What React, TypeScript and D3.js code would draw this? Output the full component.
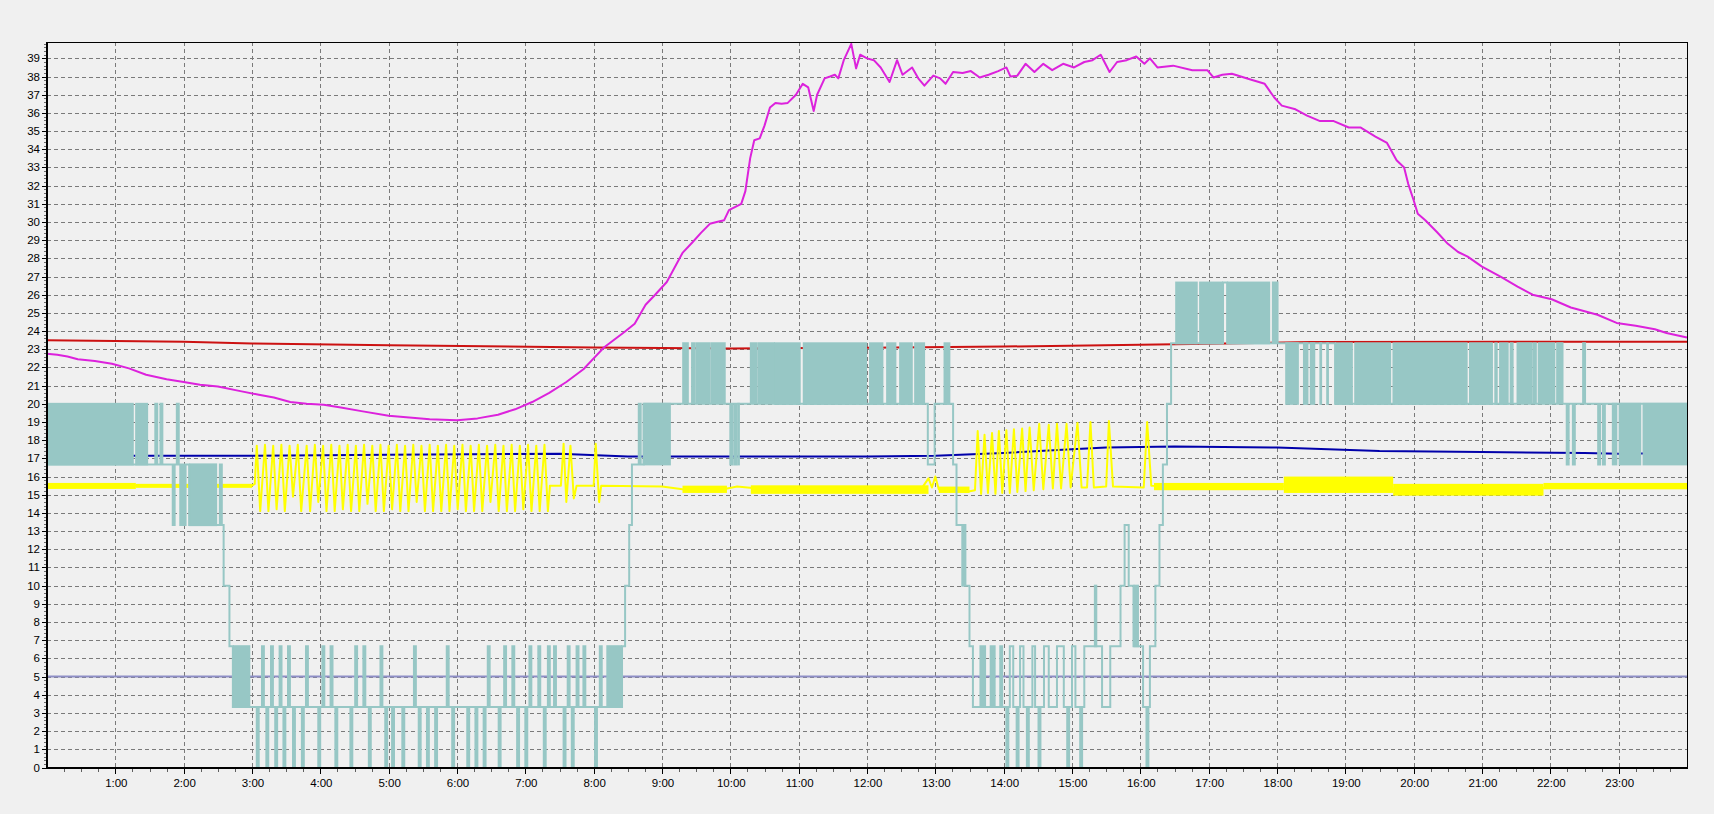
import React, { useEffect, useRef } from "react";
import * as d3 from "d3";

type Pt = [number, number];
// [start hour, end hour, low value, high value]
type Band = [number, number, number, number];

// ---- data (hours, value) ----

const magentaSeries: Pt[] = [
  [0, 22.75], [0.15, 22.7], [0.3, 22.6], [0.45, 22.45], [0.7, 22.35], [0.95, 22.2],
  [1.2, 21.95], [1.45, 21.6], [1.75, 21.35], [2.0, 21.2], [2.24, 21.05], [2.5, 20.95],
  [2.83, 20.7], [3.1, 20.5], [3.32, 20.35], [3.56, 20.1], [3.8, 20.0], [4.05, 19.95],
  [4.3, 19.8], [4.6, 19.6], [5.0, 19.35], [5.3, 19.25], [5.6, 19.15], [6.0, 19.1],
  [6.3, 19.2], [6.6, 19.4], [6.85, 19.7], [7.1, 20.1], [7.35, 20.6], [7.6, 21.2],
  [7.85, 21.9], [8.0, 22.5], [8.15, 23.1], [8.29, 23.5], [8.45, 23.95], [8.6, 24.4],
  [8.76, 25.45], [8.9, 26.0], [9.07, 26.7], [9.3, 28.3], [9.45, 28.9], [9.57, 29.4],
  [9.7, 29.9], [9.8, 30.0], [9.91, 30.1], [9.98, 30.65], [10.16, 31.0], [10.22, 31.7],
  [10.29, 33.5], [10.35, 34.5], [10.43, 34.6], [10.5, 35.3], [10.58, 36.3], [10.66, 36.55],
  [10.75, 36.5], [10.84, 36.55], [10.96, 37.0], [11.06, 37.6], [11.14, 37.4], [11.22, 36.1],
  [11.27, 37.0], [11.38, 37.9], [11.46, 38.0], [11.53, 38.1], [11.58, 37.9], [11.66, 38.9],
  [11.77, 39.8], [11.84, 38.45], [11.9, 39.2], [12.0, 39.0], [12.1, 38.9], [12.2, 38.5],
  [12.33, 37.7], [12.44, 38.9], [12.52, 38.1], [12.66, 38.5], [12.75, 37.9], [12.84, 37.5],
  [12.97, 38.05], [13.07, 37.9], [13.15, 37.6], [13.26, 38.25], [13.4, 38.2], [13.52, 38.3],
  [13.65, 37.95], [13.78, 38.1], [13.92, 38.3], [14.04, 38.5], [14.1, 38.0], [14.2, 38.05],
  [14.32, 38.7], [14.45, 38.25], [14.58, 38.7], [14.71, 38.35], [14.87, 38.7], [15.03, 38.5],
  [15.18, 38.8], [15.3, 38.9], [15.42, 39.2], [15.55, 38.25], [15.66, 38.8], [15.8, 38.9],
  [15.94, 39.1], [16.06, 38.7], [16.14, 39.0], [16.25, 38.5], [16.48, 38.6], [16.76, 38.35],
  [16.98, 38.35], [17.07, 37.95], [17.2, 38.1], [17.34, 38.15], [17.6, 37.85], [17.82, 37.6],
  [17.96, 36.85], [18.07, 36.4], [18.27, 36.2], [18.44, 35.85], [18.63, 35.55], [18.83, 35.55],
  [19.05, 35.2], [19.22, 35.2], [19.44, 34.7], [19.61, 34.35], [19.75, 33.4], [19.86, 33.0],
  [19.92, 32.1], [20.0, 31.2], [20.06, 30.45], [20.17, 30.1], [20.34, 29.45], [20.5, 28.8],
  [20.65, 28.35], [20.79, 28.1], [21.0, 27.55], [21.29, 26.95], [21.52, 26.45], [21.74, 26.0],
  [22.02, 25.75], [22.3, 25.3], [22.69, 24.9], [22.97, 24.45], [23.25, 24.3], [23.53, 24.1],
  [23.7, 23.9], [24, 23.65],
];

const redSeries: Pt[] = [
  [0, 23.5], [2, 23.42], [3, 23.32], [5, 23.22], [8, 23.1], [10, 23.05], [12, 23.08],
  [14, 23.15], [16, 23.25], [17, 23.3], [18.5, 23.4], [24, 23.42],
];

const blueSeries: Pt[] = [
  [0, 17.2], [1.3, 17.15], [3, 17.15], [5, 17.2], [7.5, 17.25], [8.5, 17.1], [12, 17.1],
  [13, 17.15], [14, 17.3], [15, 17.5], [15.5, 17.6], [16.5, 17.65], [18, 17.6], [19.5, 17.4],
  [21, 17.35], [22.5, 17.3], [23, 17.25], [24, 17.3],
];

const yellowSeries: Pt[] = [
  [0, 15.5], [0.5, 15.45], [1.0, 15.5], [1.5, 15.5], [2.0, 15.45], [2.5, 15.5], [3.0, 15.5],
  [3.04, 15.6], [3.07, 17.7], [3.12, 14.1], [3.19, 17.75], [3.24, 14.1], [3.31, 17.7], [3.36, 14.2],
  [3.43, 17.75], [3.48, 14.1], [3.55, 17.7], [3.6, 14.9], [3.67, 17.75], [3.72, 14.1], [3.8, 17.7],
  [3.85, 14.1], [3.92, 17.75], [3.97, 14.6], [4.04, 17.7], [4.09, 14.1], [4.16, 17.75], [4.21, 14.1],
  [4.28, 17.7], [4.33, 14.2], [4.4, 17.75], [4.45, 14.1], [4.52, 17.7], [4.57, 14.1], [4.64, 17.75],
  [4.69, 14.5], [4.76, 17.7], [4.81, 14.1], [4.88, 17.75], [4.93, 14.1], [5.0, 17.7], [5.05, 14.2],
  [5.12, 17.75], [5.17, 14.1], [5.24, 17.7], [5.29, 14.1], [5.36, 17.75], [5.41, 14.6], [5.48, 17.7],
  [5.53, 14.1], [5.6, 17.75], [5.65, 14.1], [5.72, 17.7], [5.77, 14.1], [5.84, 17.75], [5.89, 14.1],
  [5.96, 17.7], [6.01, 14.2], [6.08, 17.75], [6.13, 14.1], [6.2, 17.7], [6.25, 14.1], [6.32, 17.75],
  [6.37, 14.1], [6.44, 17.7], [6.49, 14.6], [6.56, 17.75], [6.61, 14.1], [6.68, 17.7], [6.73, 14.1],
  [6.8, 17.75], [6.85, 14.1], [6.92, 17.7], [6.97, 14.2], [7.04, 17.75], [7.09, 14.1], [7.16, 17.7],
  [7.21, 14.1], [7.28, 17.75], [7.33, 14.1], [7.36, 15.5], [7.52, 15.5], [7.56, 17.8], [7.6, 14.6],
  [7.66, 17.7], [7.71, 14.8], [7.75, 15.5], [8.0, 15.5], [8.03, 17.8], [8.08, 14.6], [8.11, 15.5],
  [9.0, 15.45], [9.3, 15.3], [9.6, 15.25], [9.9, 15.3], [10.1, 15.45], [10.4, 15.35], [11.0, 15.3],
  [12.0, 15.3], [12.8, 15.35], [12.9, 15.9], [12.95, 15.4], [13.0, 16.0], [13.05, 15.3],
  [13.3, 15.25], [13.45, 15.15], [13.58, 15.25],
  [13.62, 18.5], [13.67, 15.05], [13.72, 18.3], [13.77, 15.1], [13.83, 18.4], [13.88, 15.05],
  [13.93, 18.5], [13.98, 15.1], [14.04, 18.55], [14.09, 15.1], [14.15, 18.6], [14.2, 15.15],
  [14.27, 18.65], [14.32, 15.2], [14.38, 18.7], [14.44, 15.25], [14.52, 18.9], [14.58, 15.3],
  [14.66, 18.85], [14.72, 15.35], [14.78, 18.9], [14.84, 15.35], [14.92, 18.9], [14.98, 15.4],
  [15.08, 18.95], [15.14, 15.4], [15.22, 15.4], [15.27, 19.0], [15.32, 15.4], [15.5, 15.45],
  [15.54, 19.05], [15.6, 15.45], [16.05, 15.4], [16.1, 19.0], [16.16, 15.5], [17.0, 15.45],
  [18.1, 15.45], [18.8, 15.55], [19.3, 15.5], [19.8, 15.3], [20.3, 15.25], [21.0, 15.25],
  [21.5, 15.3], [22.0, 15.4], [22.5, 15.5], [23.0, 15.5], [24, 15.5],
];

// noisy stretches of the yellow trace
const yellowNoise: Band[] = [
  [0, 1.3, 15.32, 15.65], [1.3, 3.0, 15.38, 15.6], [9.3, 9.95, 15.1, 15.5], [10.3, 12.9, 15.05, 15.52],
  [13.05, 13.5, 15.1, 15.45], [16.2, 18.1, 15.25, 15.65], [18.1, 19.7, 15.1, 16.0],
  [19.7, 21.9, 14.95, 15.6], [21.9, 24, 15.3, 15.65],
];

const slateLevel = 5;

// teal step trace: level changes
const tealLevels: Pt[] = [
  [0, 16.67], [2.08, 13.33], [2.585, 10], [2.67, 6.67], [2.72, 3.33], [8.415, 6.67], [8.46, 10],
  [8.52, 13.33], [8.56, 16.67], [8.73, 20], [12.89, 16.67], [12.99, 20], [13.26, 16.67],
  [13.31, 13.33], [13.44, 10], [13.5, 6.67], [13.55, 3.33], [14.09, 6.67], [14.14, 3.33],
  [14.24, 6.67], [14.29, 3.33], [14.42, 6.67], [14.46, 3.33], [14.59, 6.67], [14.66, 3.33],
  [14.78, 6.67], [14.88, 3.33], [15.0, 6.67], [15.05, 3.33], [15.18, 6.67], [15.44, 3.33],
  [15.56, 6.67], [15.71, 10], [15.77, 13.33], [15.83, 10], [15.9, 6.67], [16.04, 3.33],
  [16.14, 6.67], [16.22, 10], [16.28, 13.33], [16.33, 16.67], [16.39, 20], [16.45, 23.33],
  [17.21, 26.67], [17.27, 23.33], [18.85, 20], [22.9, 20], [24, 20],
];

// short switching pulses: [hour, level reached]
const tealPulses: Pt[] = [
  [1.585, 20], [1.66, 20], [1.9, 20], [1.84, 13.33], [1.95, 13.33], [2.0, 13.33], [2.53, 16.67],
  [3.146, 6.67], [3.278, 6.67], [3.404, 6.67], [3.527, 6.67], [3.79, 6.67], [4.03, 6.67],
  [4.15, 6.67], [4.51, 6.67], [4.63, 6.67], [4.88, 6.67], [5.37, 6.67], [5.85, 6.67], [6.45, 6.67],
  [6.69, 6.67], [6.81, 6.67], [7.06, 6.67], [7.19, 6.67], [7.33, 6.67], [7.42, 6.67], [7.62, 6.67],
  [7.75, 6.67], [7.85, 6.67], [8.09, 6.67],
  [3.07, 0], [3.21, 0], [3.34, 0], [3.46, 0], [3.6, 0], [3.73, 0], [3.97, 0], [4.22, 0], [4.44, 0],
  [4.71, 0], [4.95, 0], [5.05, 0], [5.2, 0], [5.44, 0], [5.56, 0], [5.68, 0], [5.93, 0], [6.15, 0],
  [6.27, 0], [6.39, 0], [6.61, 0], [6.88, 0], [7.0, 0], [7.27, 0], [7.56, 0], [7.68, 0], [8.02, 0],
  [8.66, 20],
  [9.31, 23.33], [9.35, 23.33], [9.44, 23.33], [9.5, 23.33], [9.54, 23.33], [9.58, 23.33],
  [9.63, 23.33], [9.67, 23.33], [9.73, 23.33], [9.77, 23.33], [9.81, 23.33], [9.85, 23.33],
  [9.89, 23.33], [10.0, 16.67], [10.06, 16.67],
  [10.3, 23.33], [10.35, 23.33], [10.41, 23.33], [10.46, 23.33], [10.51, 23.33], [10.56, 23.33],
  [10.61, 23.33],
  [13.66, 6.67], [13.7, 6.67], [13.81, 6.67], [13.84, 6.67], [13.95, 6.67],
  [14.04, 0], [14.19, 0], [14.34, 0], [14.51, 0], [14.93, 0], [15.12, 0], [16.09, 0],
  [17.94, 26.67], [17.98, 26.67],
  [21.42, 23.33], [21.52, 23.33], [21.56, 23.33], [21.6, 23.33], [21.65, 23.33], [21.7, 23.33],
  [21.76, 23.33], [21.83, 23.33], [21.88, 23.33], [21.93, 23.33], [21.98, 23.33], [22.03, 23.33],
  [22.1, 23.33], [22.15, 23.33], [22.48, 23.33],
  [22.24, 16.67], [22.33, 16.67], [22.7, 16.67], [22.77, 16.67],
];
const tealPulseWidth = 0.028; // hours

// rapid switching blocks drawn as filled areas
const tealBands: Band[] = [
  [0, 1.27, 16.67, 20], [1.29, 1.48, 16.67, 20], [2.08, 2.49, 13.33, 16.67], [2.72, 2.975, 3.33, 6.67],
  [8.185, 8.415, 3.33, 6.67], [8.73, 9.13, 16.67, 20], [10.1, 10.14, 16.67, 20],
  [10.64, 11.03, 20, 23.33], [11.06, 12.0, 20, 23.33], [12.03, 12.24, 20, 23.33],
  [12.28, 12.43, 20, 23.33], [12.47, 12.67, 20, 23.33], [12.69, 12.85, 20, 23.33],
  [13.12, 13.22, 20, 23.33], [13.38, 13.44, 10, 13.33], [15.32, 15.37, 6.67, 10],
  [15.9, 15.98, 6.67, 10], [16.51, 16.84, 23.33, 26.67], [16.86, 17.21, 23.33, 26.67],
  [17.27, 17.9, 23.33, 26.67], [18.12, 18.32, 20, 23.33], [18.38, 18.46, 20, 23.33],
  [18.48, 18.56, 20, 23.33], [18.62, 18.66, 20, 23.33], [18.72, 18.76, 20, 23.33],
  [18.85, 19.11, 20, 23.33], [19.13, 19.67, 20, 23.33], [19.69, 20.79, 20, 23.33],
  [20.81, 21.16, 20, 23.33], [21.18, 21.23, 20, 23.33], [21.25, 21.39, 20, 23.33],
  [22.9, 22.98, 16.67, 20], [23.0, 23.33, 16.67, 20], [23.35, 24, 16.67, 20],
];

const hourTicks = d3.range(1, 24);
const valueTicks = d3.range(0, 40);

const width = 1714;
const height = 814;
const margin = { top: 42, right: 27, bottom: 46.5, left: 47 };

const colors = {
  bg: "#f0f0f0",
  grid: "#7a7a7a",
  teal: "#97c7c5",
  magenta: "#dc22dc",
  red: "#cc1111",
  blue: "#0000aa",
  yellow: "#ffff00",
  slate: "#8e8ec6",
};

const DayChart: React.FC = () => {
  const svgRef = useRef<SVGSVGElement | null>(null);

  useEffect(() => {
    const svg = d3.select(svgRef.current);
    svg.selectAll("*").remove();

    const x = d3.scaleLinear().domain([0, 24]).range([margin.left, width - margin.right]);
    const y = d3.scaleLinear().domain([0, 39.9]).range([height - margin.bottom, margin.top]);
    const x0 = margin.left;
    const x1 = width - margin.right;
    const y0 = height - margin.bottom;
    const y1 = margin.top;

    svg.append("rect").attr("width", width).attr("height", height).attr("fill", colors.bg);

    // grid
    const grid = svg.append("g").attr("shape-rendering", "crispEdges");
    grid
      .selectAll(".hgrid")
      .data(valueTicks.filter((v) => v > 0))
      .enter()
      .append("line")
      .attr("x1", x0)
      .attr("x2", x1)
      .attr("y1", (d) => Math.round(y(d)) + 0.5)
      .attr("y2", (d) => Math.round(y(d)) + 0.5)
      .attr("stroke", colors.grid)
      .attr("stroke-dasharray", "4,3");
    grid
      .selectAll(".vgrid")
      .data(hourTicks)
      .enter()
      .append("line")
      .attr("x1", (d) => Math.round(x(d)) + 0.5)
      .attr("x2", (d) => Math.round(x(d)) + 0.5)
      .attr("y1", y1)
      .attr("y2", y0)
      .attr("stroke", colors.grid)
      .attr("stroke-dasharray", "4,3");

    const line = d3
      .line<Pt>()
      .x((d) => x(d[0]))
      .y((d) => y(d[1]));

    const plot = svg.append("g");

    // set point line
    plot
      .append("line")
      .attr("x1", x0)
      .attr("x2", x1)
      .attr("y1", y(slateLevel))
      .attr("y2", y(slateLevel))
      .attr("stroke", colors.slate)
      .attr("stroke-width", 2);

    plot.append("path").attr("d", line(redSeries)).attr("fill", "none").attr("stroke", colors.red).attr("stroke-width", 2);
    plot.append("path").attr("d", line(blueSeries)).attr("fill", "none").attr("stroke", colors.blue).attr("stroke-width", 2);

    // yellow with its noisy stretches
    plot
      .selectAll(".ynoise")
      .data(yellowNoise)
      .enter()
      .append("rect")
      .attr("x", (d) => x(d[0]))
      .attr("width", (d) => x(d[1]) - x(d[0]))
      .attr("y", (d) => y(d[3]))
      .attr("height", (d) => y(d[2]) - y(d[3]))
      .attr("fill", colors.yellow);
    plot
      .append("path")
      .attr("d", line(yellowSeries))
      .attr("fill", "none")
      .attr("stroke", colors.yellow)
      .attr("stroke-width", 2)
      .attr("stroke-linejoin", "round");

    plot
      .append("path")
      .attr("d", line(magentaSeries))
      .attr("fill", "none")
      .attr("stroke", colors.magenta)
      .attr("stroke-width", 2)
      .attr("stroke-linejoin", "round");

    // teal: filled switching blocks + step trace with pulses
    plot
      .selectAll(".tband")
      .data(tealBands)
      .enter()
      .append("rect")
      .attr("x", (d) => x(d[0]))
      .attr("width", (d) => x(d[1]) - x(d[0]))
      .attr("y", (d) => y(d[3]) - 1)
      .attr("height", (d) => y(d[2]) - y(d[3]) + 2)
      .attr("fill", colors.teal);

    const baseAt = (t: number) => {
      let v = tealLevels[0][1];
      tealLevels.forEach(([h, lv]) => {
        if (h <= t) v = lv;
      });
      return v;
    };
    const tealPts: Pt[] = [...tealLevels];
    tealPulses.forEach(([t, v]) => {
      tealPts.push([t, v]);
      tealPts.push([t + tealPulseWidth, baseAt(t)]);
    });
    tealPts.sort((a, b) => a[0] - b[0]);

    plot
      .append("path")
      .attr("d", line.curve(d3.curveStepAfter)(tealPts))
      .attr("fill", "none")
      .attr("stroke", colors.teal)
      .attr("stroke-width", 2);

    // axes frame
    const frame = svg.append("g").attr("shape-rendering", "crispEdges");
    frame.append("line").attr("x1", x0).attr("x2", x1 + 0.5).attr("y1", y1 + 0.5).attr("y2", y1 + 0.5).attr("stroke", "#000");
    frame.append("line").attr("x1", x1 + 0.5).attr("x2", x1 + 0.5).attr("y1", y1).attr("y2", y0).attr("stroke", "#000");
    frame.append("line").attr("x1", x0).attr("x2", x0).attr("y1", y1).attr("y2", y0 + 1).attr("stroke", "#000").attr("stroke-width", 2);
    frame.append("line").attr("x1", x0 - 1).attr("x2", x1 + 1).attr("y1", y0).attr("y2", y0).attr("stroke", "#000").attr("stroke-width", 2);

    // y ticks
    frame
      .selectAll(".yminor")
      .data(d3.range(0, 39.9, 0.2))
      .enter()
      .append("line")
      .attr("x1", x0 - 3)
      .attr("x2", x0)
      .attr("y1", (d) => Math.round(y(d)) + 0.5)
      .attr("y2", (d) => Math.round(y(d)) + 0.5)
      .attr("stroke", "#000")
      .attr("stroke-opacity", 0.55);
    frame
      .selectAll(".ymajor")
      .data(valueTicks)
      .enter()
      .append("line")
      .attr("x1", x0 - 5)
      .attr("x2", x0)
      .attr("y1", (d) => Math.round(y(d)) + 0.5)
      .attr("y2", (d) => Math.round(y(d)) + 0.5)
      .attr("stroke", "#000");

    // x ticks
    frame
      .selectAll(".xminor")
      .data(d3.range(0.25, 24, 0.25))
      .enter()
      .append("line")
      .attr("x1", (d) => Math.round(x(d)) + 0.5)
      .attr("x2", (d) => Math.round(x(d)) + 0.5)
      .attr("y1", y0)
      .attr("y2", y0 + 4)
      .attr("stroke", "#000")
      .attr("stroke-opacity", 0.6);
    frame
      .selectAll(".xmajor")
      .data(hourTicks)
      .enter()
      .append("line")
      .attr("x1", (d) => Math.round(x(d)) + 0.5)
      .attr("x2", (d) => Math.round(x(d)) + 0.5)
      .attr("y1", y0)
      .attr("y2", y0 + 6)
      .attr("stroke", "#000");

    const labels = svg
      .append("g")
      .attr("font-family", "'Liberation Sans', Arial, sans-serif")
      .attr("font-size", "11.5px")
      .attr("fill", "#000");
    labels
      .selectAll(".ylab")
      .data(valueTicks)
      .enter()
      .append("text")
      .attr("x", x0 - 7)
      .attr("y", (d) => y(d) + 4)
      .attr("text-anchor", "end")
      .text((d) => String(d));
    labels
      .selectAll(".xlab")
      .data(hourTicks)
      .enter()
      .append("text")
      .attr("x", (d) => x(d) + 1)
      .attr("y", y0 + 19)
      .attr("text-anchor", "middle")
      .text((d) => `${d}:00`);
  }, []);

  return (
    <svg
      ref={svgRef}
      width={width}
      height={height}
      style={{ position: "absolute", left: 0, top: 0, display: "block" }}
    ></svg>
  );
};

export default function App() {
  return <DayChart />;
}
